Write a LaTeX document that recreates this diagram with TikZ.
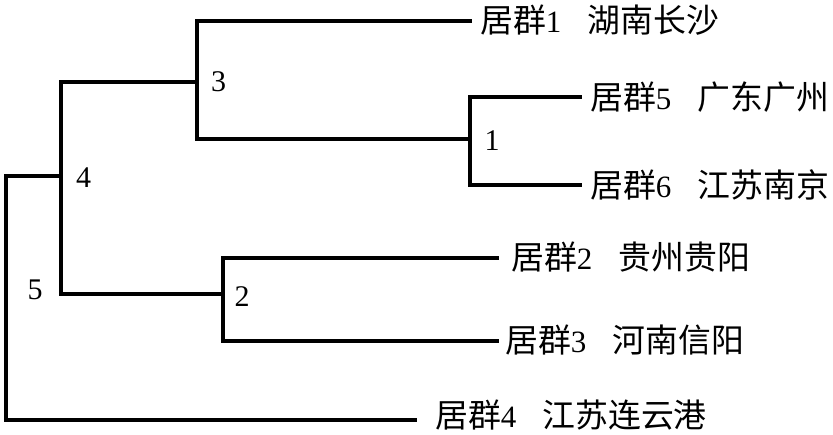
\documentclass[tikz,border=0pt]{standalone}
\usepackage{fontspec}
\setmainfont{Liberation Serif}
\newfontfamily\cjk[Scale=1.06]{Noto Sans CJK SC}
\newcommand{\leaftext}[3]{{\cjk 居群}#1\hspace{#2}{\cjk #3}}
\begin{document}
\begin{tikzpicture}[x=1pt,y=-1pt,
  branch/.style={line width=3.6pt,line cap=rect},
  leaf/.style={anchor=west,inner ysep=0pt,font=\fontsize{31}{31}\selectfont},
  num/.style={inner sep=0pt,font=\fontsize{30}{30}\selectfont}]
\useasboundingbox (0,0) rectangle (833,434);
% branch points
\coordinate (n5t) at (6,176);
\coordinate (n5b) at (6,420);
\coordinate (n4t) at (61,82);
\coordinate (n4m) at (61,176);
\coordinate (n4b) at (61,294);
\coordinate (n3t) at (197,21);
\coordinate (n3m) at (197,82);
\coordinate (n3b) at (197,139);
\coordinate (n1t) at (470,97);
\coordinate (n1m) at (470,139);
\coordinate (n1b) at (470,185);
\coordinate (n2t) at (223,258);
\coordinate (n2m) at (223,294);
\coordinate (n2b) at (223,341);
% leaves
\node[leaf,inner xsep=10pt] (L1) at (470,20) {\leaftext{1}{26pt}{湖南长沙}};
\node[leaf,inner xsep=10pt] (L5) at (580,97) {\leaftext{5}{26pt}{广东广州}};
\node[leaf,inner xsep=10pt] (L6) at (580,185) {\leaftext{6}{26pt}{江苏南京}};
\node[leaf,inner xsep=14pt] (L2) at (497,257) {\leaftext{2}{26pt}{贵州贵阳}};
\node[leaf,inner xsep=8pt] (L3) at (497,340) {\leaftext{3}{26pt}{河南信阳}};
\node[leaf,inner xsep=20pt] (L4) at (415,415) {\leaftext{4}{26pt}{江苏连云港}};
% connectors
\draw[branch] (n5t) -- (n5b) -- (n5b -| L4.west);
\draw[branch] (n5t) -- (n4m);
\draw[branch] (n4t) -- (n4b);
\draw[branch] (n4t) -- (n3m);
\draw[branch] (n3t) -- (n3b);
\draw[branch] (n3t) -- (n3t -| L1.west);
\draw[branch] (n3b) -- (n1m);
\draw[branch] (n1t) -- (n1b);
\draw[branch] (n1t) -- (L5.west);
\draw[branch] (n1b) -- (L6.west);
\draw[branch] (n4b) -- (n2m);
\draw[branch] (n2t) -- (n2b);
\draw[branch] (n2t) -- (n2t -| L2.west);
\draw[branch] (n2b) -- (n2b -| L3.west);
% numbers
\node[num] (c3) at (218.5,82) {3};
\node[num] (c4) at (83.5,178) {4};
\node[num] (c5) at (35,290) {5};
\node[num] (c2) at (242,297) {2};
\node[num] (c1) at (492,141) {1};
\end{tikzpicture}
\end{document}
